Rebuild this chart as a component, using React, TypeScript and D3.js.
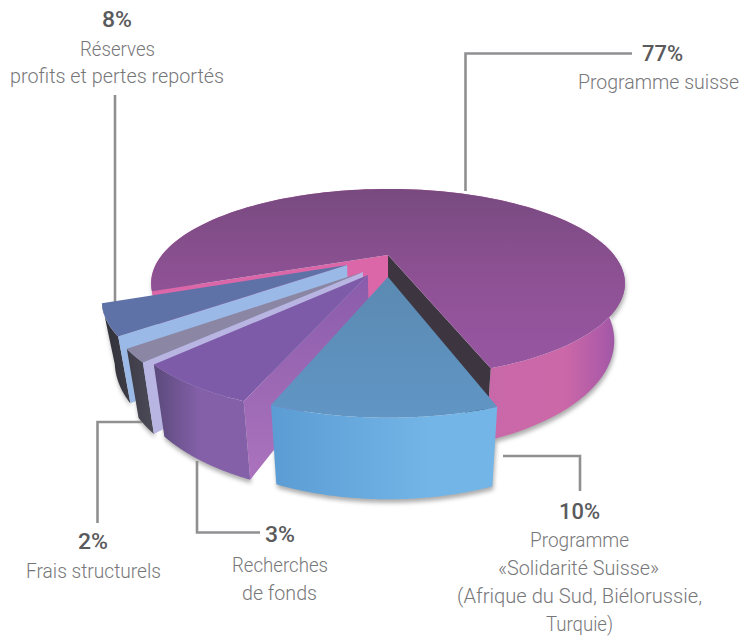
import React from "react";
import * as d3 from "d3";

// ---- data ----
const sliceNames = ["Programme «Solidarité Suisse»", "Recherches de fonds", "Frais structurels", "Réserves", "Programme suisse"];
const labelledPercent = [10, 3, 2, 8, 77];
// share of the disc each wedge occupies as drawn (the artwork is not strictly proportional)
const drawnShare = [10.97, 6.36, 1.92, 4.92, 75.83];

const W = 742, H = 639;

// projection of the tilted disc
const cx = 388, cy = 255, R = 226, tilt = 0.38, persp = 0.3, thick = 52, taper = 0.955;
const project = (u: number, v: number, down = 0): [number, number] => {
  const s = 1 / (1 - persp * v);
  const k = down ? taper : 1;
  return [cx + R * u * s * k, cy + (R * tilt * v + down) * s];
};

// wedge styles, same order as the data
const explode: [number, number][] = [[0, 0.238], [-0.083, 0.218], [-0.105, 0.187], [-0.175, 0.113], [0, 0]];
const radius = [0.97, 0.97, 0.995, 0.98, 1];
const topFill = ["url(#gBlueTop)", "#7d5ba8", "#8b86a3", "#5f72a8", "url(#gMainTop)"];
const rimFill = ["url(#gBlueRim)", "url(#gPurpleRim)", "url(#gGreyRim)", "url(#gSlateRim)", "url(#gMainRim)"];
const startCutFill = [null, "url(#gPurpleCut)", "#b9b5e3", "#9bb9e6", "#db67a8"];
const endCutFill = [null, null, null, null, "#3d3640"];

const startDeg = 71 + 90;
const arcs = d3.pie<number>().sort(null).startAngle((startDeg * Math.PI) / 180).endAngle((startDeg * Math.PI) / 180 + 2 * Math.PI)(drawnShare);
const line = d3.line();
const drawOrder = [4, 3, 2, 1, 0];

const grey = "#909092";
const leaders: [number, number][][] = [
  [[465.5, 191], [465.5, 53.5], [632, 53.5]],
  [[115, 95], [115, 302]],
  [[503, 456], [580, 456], [580, 491]],
  [[197, 461], [197, 532.5], [260, 532.5]],
  [[142, 422], [97.5, 422], [97.5, 523]],
];

type T = [string, number, number, number, boolean];
// text, centre x, baseline, width, strong
const texts: T[] = [
  ["8%", 117, 27, 30, true],
  ["Réserves", 117.5, 56, 75, false],
  ["profits et pertes reportés", 117, 83, 214, false],
  ["77%", 662.5, 61, 41, true],
  ["Programme suisse", 661.5, 89, 155, false],
  ["10%", 579.5, 519, 41, true],
  ["Programme", 579.5, 547, 99, false],
  ["«Solidarité Suisse»", 578.5, 575, 161, false],
  ["(Afrique du Sud, Biélorussie,", 579.5, 603, 245, false],
  ["Turquie)", 579.5, 631, 67, false],
  ["3%", 280, 542, 30, true],
  ["Recherches", 280, 572, 96, false],
  ["de fonds", 279.5, 600, 75, false],
  ["2%", 93, 549, 30, true],
  ["Frais structurels", 93.5, 578, 135, false],
];

function wedge(i: number) {
  const a = arcs[i];
  const [ex, ey] = explode[i];
  const r = radius[i];
  const steps = d3.range(0, 121).map((j) => a.startAngle + ((a.endAngle - a.startAngle) * j) / 120 - Math.PI / 2);
  const pt = (th: number, down = 0) => project(ex + r * Math.cos(th), ey + r * Math.sin(th), down);
  const apex = (down = 0) => project(ex, ey, down);
  const top = steps.map((t) => pt(t));
  const bottom = steps.map((t) => pt(t, thick)).reverse();
  const first = steps[0], last = steps[steps.length - 1];
  return {
    top: line([apex(), ...top])! + "Z",
    rim: line([...top, ...bottom])! + "Z",
    startCut: line([apex(), pt(first), pt(first, thick), apex(thick)])! + "Z",
    endCut: line([apex(), pt(last), pt(last, thick), apex(thick)])! + "Z",
  };
}

const Grad = ({ id, x1, y1, x2, y2, stops }: { id: string; x1: number; y1: number; x2: number; y2: number; stops: [number, string][] }) => (
  <linearGradient id={id} gradientUnits="userSpaceOnUse" x1={x1} y1={y1} x2={x2} y2={y2}>
    {stops.map(([o, c]) => <stop key={o} offset={o} stopColor={c} />)}
  </linearGradient>
);

export default function App() {
  const ws = drawnShare.map((_, i) => wedge(i));
  return (
    <svg width={W} height={H} viewBox={`0 0 ${W} ${H}`} style={{ position: "absolute", left: 0, top: 0, background: "#fff" }}>
      <defs>
        <filter id="soft" x="-20%" y="-20%" width="140%" height="140%"><feGaussianBlur stdDeviation="2" /></filter>
        <Grad id="gMainTop" x1={0} y1={190} x2={0} y2={345} stops={[[0, "#784a80"], [0.55, "#8d5193"], [1, "#96559f"]]} />
        <Grad id="gMainRim" x1={490} y1={0} x2={625} y2={0} stops={[[0, "#c968a9"], [0.55, "#cc68a8"], [0.85, "#ac5aa8"], [1, "#8f55a0"]]} />
        <Grad id="gBlueTop" x1={0} y1={277} x2={0} y2={415} stops={[[0, "#5b8ab2"], [1, "#6095c4"]]} />
        <Grad id="gBlueRim" x1={272} y1={0} x2={430} y2={0} stops={[[0, "#5b9cd4"], [1, "#73b5e6"]]} />
        <Grad id="gPurpleRim" x1={155} y1={0} x2={200} y2={0} stops={[[0, "#5c4a7c"], [1, "#8460a9"]]} />
        <Grad id="gPurpleCut" x1={0} y1={275} x2={0} y2={470} stops={[[0, "#8a5cab"], [1, "#aa72bc"]]} />
        <Grad id="gGreyRim" x1={125} y1={0} x2={155} y2={0} stops={[[0, "#3c3b46"], [1, "#4c4b58"]]} />
        <Grad id="gSlateRim" x1={100} y1={0} x2={140} y2={0} stops={[[0, "#2f2f38"], [1, "#41404b"]]} />
      </defs>

      {leaders.map((p, i) => <path key={i} d={line(p)!} fill="none" stroke={grey} strokeWidth={2.6} />)}

      <g filter="url(#soft)" opacity={0.7}>
        {drawOrder.map((i) => <path key={i} d={ws[i].rim} transform="translate(1,3.5)" fill="#8a8a8a" />)}
      </g>

      {drawOrder.map((i) => (
        <g key={sliceNames[i]} data-percent={labelledPercent[i]}>
          <path d={ws[i].rim} fill={rimFill[i]} />
          {startCutFill[i] && <path d={ws[i].startCut} fill={startCutFill[i]!} />}
          {endCutFill[i] && <path d={ws[i].endCut} fill={endCutFill[i]!} />}
          <path d={ws[i].top} fill={topFill[i]} />
        </g>
      ))}

      <g fontFamily="Roboto, 'Liberation Sans', sans-serif">
        {texts.map(([s, x, y, w, strong]) => {
          const nearEdge = x + w / 2 > W - 10;
          return nearEdge ? (
            <text key={s} x={x + w / 2} y={y} textAnchor="end" fontSize={19.5} fontWeight={300} fill="#77777a">{s}</text>
          ) : (
            <text key={s} x={x} y={y} textAnchor="middle" fontSize={strong ? 22 : 21} fontWeight={strong ? 500 : 300} fill={strong ? "#5a5a5c" : "#77777a"} textLength={w} lengthAdjust="spacingAndGlyphs">{s}</text>
          );
        })}
      </g>
    </svg>
  );
}
